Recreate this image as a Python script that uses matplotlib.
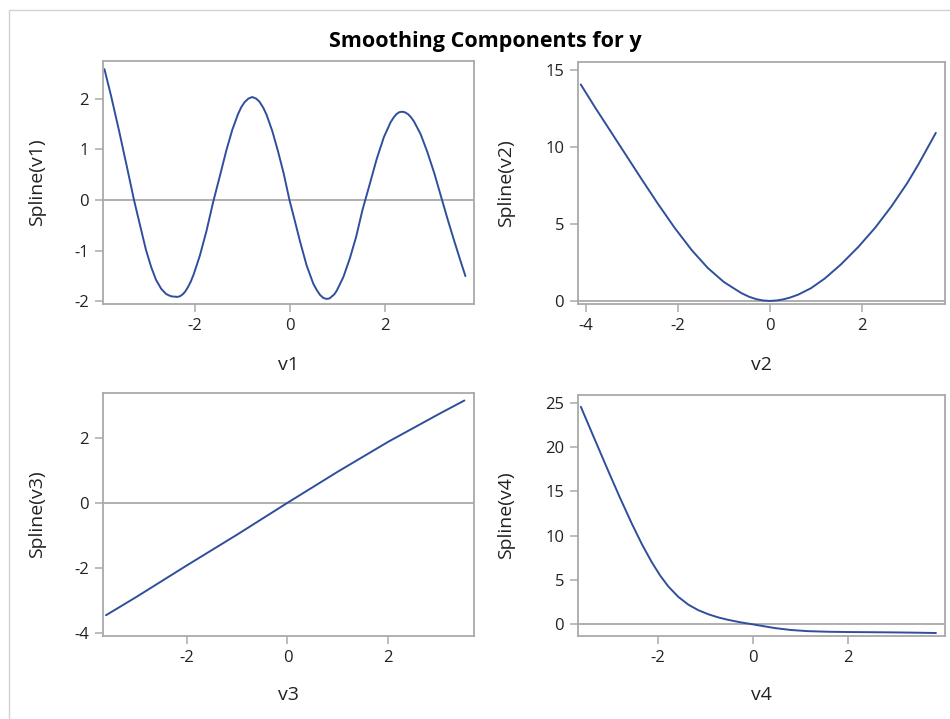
import matplotlib
matplotlib.use("Agg")
import matplotlib.pyplot as plt
from matplotlib.patches import Rectangle

# ---- data ----
x1 = [-3.89, -3.75, -3.58, -3.42, -3.27, -3.13, -3.02, -2.91, -2.81, -2.70, -2.60, -2.54, -2.48, -2.42,
      -2.36, -2.30, -2.25, -2.20, -2.14, -2.08, -2.02, -1.89, -1.75, -1.61, -1.47, -1.33, -1.21,
      -1.09, -1.02, -0.95, -0.87, -0.79, -0.71, -0.64, -0.56, -0.49, -0.37, -0.25, -0.13, -0.01,
      0.10, 0.21, 0.35, 0.49, 0.56, 0.63, 0.70, 0.77, 0.83, 0.88, 0.93, 0.98, 1.12, 1.26, 1.39,
      1.52, 1.67, 1.82, 1.97, 2.11, 2.17, 2.23, 2.29, 2.35, 2.41, 2.48, 2.54, 2.60, 2.74, 2.88,
      3.03, 3.19, 3.31, 3.44, 3.56, 3.68]
y1 = [2.58, 2.05, 1.35, 0.66, 0.00, -0.55, -0.98, -1.32, -1.57, -1.75, -1.85, -1.88, -1.90, -1.905,
      -1.91, -1.895, -1.86, -1.81, -1.72, -1.61, -1.47, -1.10, -0.61, -0.04, 0.47, 0.99, 1.38,
      1.69, 1.83, 1.93, 2.00, 2.03, 2.00, 1.94, 1.82, 1.68, 1.36, 0.96, 0.52, 0.00,
      -0.40, -0.81, -1.29, -1.65, -1.77, -1.87, -1.93, -1.95, -1.94, -1.90, -1.86, -1.79, -1.52, -1.14, -0.72,
      -0.20, 0.30, 0.81, 1.24, 1.53, 1.62, 1.69, 1.73, 1.74, 1.73, 1.69, 1.63, 1.55, 1.30, 0.95,
      0.52, 0.00, -0.39, -0.79, -1.15, -1.50]

x2 = [-4.12, -3.80, -3.53, -3.20, -2.80, -2.45, -2.07, -1.70, -1.35, -1.00, -0.62, -0.45, -0.30, -0.15,
      0.00, 0.15, 0.30, 0.45, 0.62, 0.90, 1.20, 1.55, 1.93, 2.30, 2.65, 3.00, 3.24, 3.62]
y2 = [14.08, 12.55, 11.31, 9.79, 7.95, 6.37, 4.74, 3.30, 2.14, 1.23, 0.51, 0.27, 0.12, 0.03,
      0.00, 0.03, 0.105, 0.225, 0.41, 0.83, 1.46, 2.37, 3.51, 4.77, 6.14, 7.68, 8.88, 10.93]

x3 = [-3.60, -3.00, -2.00, -1.00, 0.00, 1.00, 2.00, 3.00, 3.51]
y3 = [-3.46, -2.90, -1.93, -0.98, 0.00, 0.96, 1.88, 2.73, 3.15]

x4 = [-3.62, -3.35, -3.05, -2.80, -2.55, -2.33, -2.13, -1.95, -1.78, -1.57, -1.36, -1.15,
      -0.94, -0.73, -0.52, -0.26, 0.00, 0.23, 0.46, 0.80, 1.16, 1.60, 2.00, 2.50, 2.92, 3.40, 3.85]
y4 = [24.6, 21.18, 17.4, 14.32, 11.37, 8.95, 6.99, 5.44, 4.22, 3.04, 2.16, 1.53,
      1.07, 0.71, 0.43, 0.15, -0.08, -0.29, -0.50, -0.72, -0.85, -0.92, -0.95, -0.97, -0.99, -1.02, -1.06]

title = "Smoothing Components for y"
xlabels = ["v1", "v2", "v3", "v4"]
ylabels = ["Spline(v1)", "Spline(v2)", "Spline(v3)", "Spline(v4)"]
xticks = [[-2, 0, 2], [-4, -2, 0, 2], [-2, 0, 2], [-2, 0, 2]]
yticks = [[-2, -1, 0, 1, 2], [0, 5, 10, 15], [-4, -2, 0, 2], [0, 5, 10, 15, 20, 25]]

plt.rcParams['font.family'] = ['Open Sans', 'DejaVu Sans']
plt.rcParams['axes.unicode_minus'] = False

W, H = 950, 719
fig = plt.figure(figsize=(W / 100, H / 100), dpi=100)
fig.patch.set_facecolor('white')

# outer border (partially cropped in reference)
fig.add_artist(Rectangle((9 / W, -0.1), 1.2, 1 - 10.5 / H + 0.1, transform=fig.transFigure,
                         fill=False, edgecolor='#d2d2d2', linewidth=1.0))

def box(l, r, t, b):
    return [l / W, 1 - b / H, (r - l) / W, (b - t) / H]

boxes = [box(103, 474, 61, 304), box(578, 945, 62, 304),
         box(103, 474, 393, 636), box(578, 945, 395, 636)]
xlims = [(-3.92, 3.86), (-4.18, 3.82), (-3.66, 3.70), (-3.68, 4.04)]
ylims = [(-2.05, 2.74), (-0.2, 15.54), (-4.10, 3.38), (-1.40, 25.94)]
ylab_x = [(37, 103, 371), (506, 578, 367), (37, 103, 371), (506, 578, 367)]
xlab_y = [(365, 304, 243), (365, 304, 242), (695, 636, 243), (695, 636, 241)]

series = [(x1, y1), (x2, y2), (x3, y3), (x4, y4)]
line_color = '#2f4f9c'
grey = '#a9a9a9'

fig.text(485 / W, 1 - 46.5 / H, title, ha='center', va='baseline', fontsize=15.5,
         fontweight='bold', color='black')

for i in range(4):
    ax = fig.add_axes(boxes[i])
    ax.axhline(0, color=grey, linewidth=1.3, zorder=1)
    xs, ys = series[i]
    ax.plot(xs, ys, color=line_color, linewidth=1.4, zorder=2,
            solid_joinstyle='round', solid_capstyle='round')
    ax.set_xlim(*xlims[i])
    ax.set_ylim(*ylims[i])
    ax.set_xticks(xticks[i])
    ax.set_yticks(yticks[i])
    for s in ax.spines.values():
        s.set_color(grey)
        s.set_linewidth(1.3)
    ax.tick_params(direction='out', length=6, width=1.1, color=grey,
                   labelsize=12, labelcolor='#222222', pad=4)
    ax.set_xlabel(xlabels[i], fontsize=14, color='#222222', va='center')
    ax.set_ylabel(ylabels[i], fontsize=14, color='#222222', va='center')
    cx, l, w = ylab_x[i]
    ax.yaxis.set_label_coords((cx - l) / w, 0.5)
    cy, b, h = xlab_y[i]
    ax.xaxis.set_label_coords(0.5, -(cy - b) / h)

fig.savefig("out.png", dpi=100, facecolor='white')
